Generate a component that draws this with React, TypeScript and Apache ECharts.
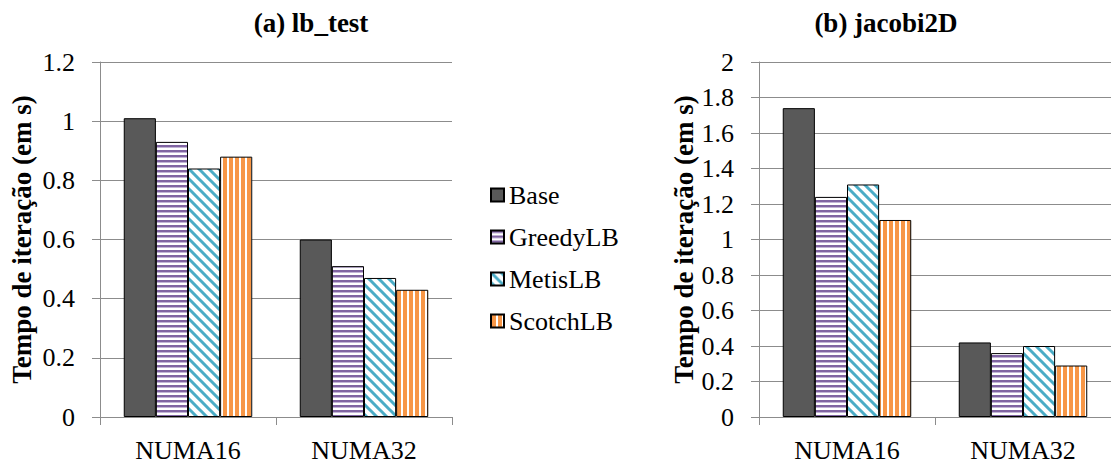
import React, { useEffect, useRef } from "react";
import * as echarts from "echarts";

const categories = ["NUMA16", "NUMA32"];
const seriesNames = ["Base", "GreedyLB", "MetisLB", "ScotchLB"];
// (a) lb_test
const lbBase = [1.01, 0.6];
const lbGreedy = [0.93, 0.51];
const lbMetis = [0.84, 0.47];
const lbScotch = [0.88, 0.43];
// (b) jacobi2D
const jcBase = [1.74, 0.42];
const jcGreedy = [1.24, 0.36];
const jcMetis = [1.31, 0.4];
const jcScotch = [1.11, 0.29];

const titles = ["(a) lb_test", "(b) jacobi2D"];
const yName = "Tempo de iteração (em s)";

const FONT = "Liberation Serif";

function makePattern(w: number, h: number, draw: (ctx: CanvasRenderingContext2D) => void) {
  const c = document.createElement("canvas");
  c.width = w;
  c.height = h;
  const ctx = c.getContext("2d")!;
  ctx.fillStyle = "#ffffff";
  ctx.fillRect(0, 0, w, h);
  draw(ctx);
  return { image: c.toDataURL(), imageWidth: w, imageHeight: h, repeat: "repeat" } as any;
}

export default function App() {
  const ref = useRef<HTMLDivElement>(null);
  useEffect(() => {
    if (!ref.current) return;
    const chart = echarts.init(ref.current, undefined, { renderer: "svg" });

    const greedyPat = makePattern(4, 5, (ctx) => {
      ctx.fillStyle = "#8064A2";
      ctx.fillRect(0, 0, 4, 2);
      ctx.fillStyle = "#c2b4d6";
      ctx.fillRect(0, 2, 4, 1);
    });
    const metisPat = makePattern(10, 10, (ctx) => {
      ctx.strokeStyle = "#4BACC6";
      ctx.lineWidth = 3;
      ctx.beginPath();
      ctx.moveTo(-2, -2);
      ctx.lineTo(12, 12);
      ctx.moveTo(-2, 8);
      ctx.lineTo(2, 12);
      ctx.moveTo(8, -2);
      ctx.lineTo(12, 2);
      ctx.stroke();
    });
    const scotchPat = makePattern(6, 4, (ctx) => {
      ctx.fillStyle = "#F79646";
      ctx.fillRect(1, 0, 4, 4);
    });

    const fills = ["#595959", greedyPat, metisPat, scotchPat];
    const dataA = [lbBase, lbGreedy, lbMetis, lbScotch];
    const dataB = [jcBase, jcGreedy, jcMetis, jcScotch];

    const gray = "#8c8c8c";
    const mkX = (gi: number) => ({
      type: "category",
      gridIndex: gi,
      data: categories,
      axisLine: { lineStyle: { color: gray, width: 1 } },
      axisTick: { show: true, length: 8, lineStyle: { color: gray } },
      axisLabel: { color: "#000", fontFamily: FONT, fontSize: 26, margin: 20 },
    });
    const mkY = (gi: number, max: number, gap: number) => ({
      type: "value",
      gridIndex: gi,
      min: 0,
      max,
      interval: 0.2,
      name: yName,
      nameLocation: "middle",
      nameGap: gap,
      nameRotate: 90,
      nameTextStyle: { color: "#000", fontFamily: FONT, fontSize: 27, fontWeight: "bold" },
      axisLine: { show: true, lineStyle: { color: gray, width: 1 } },
      axisTick: { show: true, length: 8, lineStyle: { color: gray } },
      splitLine: { show: true, lineStyle: { color: gray, width: 1 } },
      axisLabel: {
        color: "#000",
        fontFamily: FONT,
        fontSize: 26,
        margin: 25,
        formatter: (v: number) => String(Math.round(v * 10) / 10),
      },
    });

    const series: any[] = [];
    [dataA, dataB].forEach((dset, gi) => {
      dset.forEach((vals, si) => {
        series.push({
          type: "bar",
          name: seriesNames[si],
          xAxisIndex: gi,
          yAxisIndex: gi,
          data: vals,
          barGap: "0%",
          barCategoryGap: "27%",
          itemStyle: { color: fills[si], borderColor: "#000", borderWidth: 1 },
        });
      });
    });

    chart.setOption({
      animation: false,
      backgroundColor: "#ffffff",
      grid: [
        { left: 100, top: 62, width: 352, height: 355 },
        { left: 759, top: 62, width: 354, height: 355 },
      ],
      xAxis: [mkX(0), mkX(1)],
      yAxis: [mkY(0, 1.2, 65), mkY(1, 2, 59)],
      legend: {
        orient: "vertical",
        left: 485,
        top: 176,
        itemWidth: 13,
        itemHeight: 13,
        itemGap: 14,
        icon: "rect",
        data: seriesNames,
        textStyle: { color: "#000", fontFamily: FONT, fontSize: 26, lineHeight: 28 },
      },
      graphic: [
        {
          type: "text",
          x: 311,
          y: 23,
          style: {
            text: titles[0],
            fontFamily: FONT,
            fontSize: 27,
            fontWeight: "bold",
            fill: "#000",
            textAlign: "center",
            textVerticalAlign: "middle",
          },
        },
        {
          type: "text",
          x: 886,
          y: 23,
          style: {
            text: titles[1],
            fontFamily: FONT,
            fontSize: 27,
            fontWeight: "bold",
            fill: "#000",
            textAlign: "center",
            textVerticalAlign: "middle",
          },
        },
      ],
      series,
    });
    return () => chart.dispose();
  }, []);
  return (
    <div
      ref={ref}
      style={{ position: "fixed", left: 0, top: 0, width: 1111, height: 466, background: "#fff" }}
    />
  );
}
